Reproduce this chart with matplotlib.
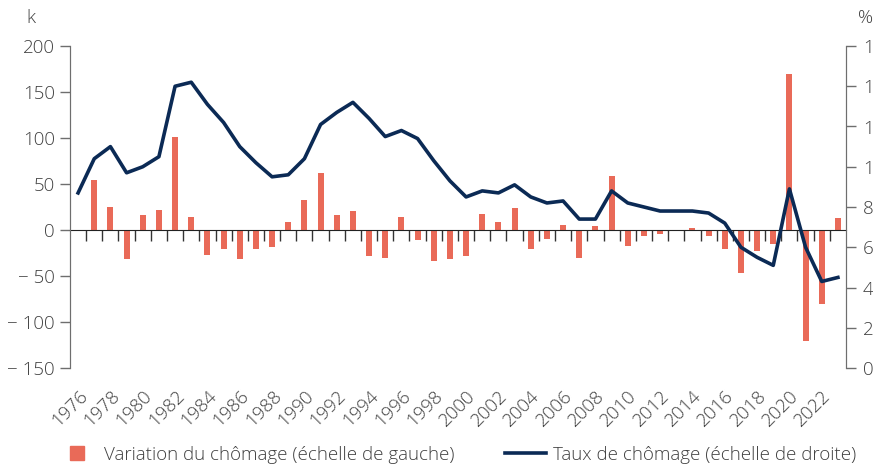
import matplotlib
matplotlib.use('Agg')
import matplotlib.pyplot as plt
from matplotlib.lines import Line2D
import numpy as np

plt.rcParams['font.family'] = ['Open Sans', 'DejaVu Sans']
plt.rcParams['font.weight'] = 'light'

# Données
annees = list(range(1976, 2024))
variation = [0, 54, 25, -31, 16, 22, 101, 14, -27, -21, -32, -21, -19, 9,
             33, 62, 16, 21, -28, -30, 14, -11, -34, -32, -28, 17, 9, 24,
             -21, -10, 5, -30, 4, 59, -17, -7, -4, 0, 2, -6, -21, -47,
             -23, -15, 170, -121, -80, 13]
taux = [8.7, 10.4, 11.0, 9.7, 10.0, 10.5, 14.0, 14.2, 13.1, 12.2, 11.0, 10.2,
        9.5, 9.6, 10.4, 12.1, 12.7, 13.2, 12.4, 11.5, 11.8, 11.4, 10.3, 9.3,
        8.5, 8.8, 8.7, 9.1, 8.5, 8.2, 8.3, 7.4, 7.4, 8.8, 8.2, 8.0, 7.8, 7.8,
        7.8, 7.7, 7.2, 6.0, 5.5, 5.1, 8.9, 6.0, 4.3, 4.5]

gauche_ticks = [200, 150, 100, 50, 0, -50, -100, -150]
gauche_labels = ['200', '150', '100', '50', '0', '\u2212 50', '\u2212 100', '\u2212 150']
droite_ticks = [0, 2, 4, 6, 8, 10, 12, 14, 16]

corail = '#e96a58'
marine = '#0b2a55'
gris_texte = '#404040'
gris_axe = '#6e6e6e'
taille = 13.5

x = np.arange(len(annees))

fig = plt.figure(figsize=(8.73, 4.65), dpi=100)
ax = fig.add_axes([70 / 873, 1 - 368 / 465, 776 / 873, 322 / 465])
ax2 = ax.twinx()

ax.bar(x, variation, width=0.38, color=corail, zorder=2)
ax2.plot(x, taux, color=marine, lw=2.6, zorder=3)

ax.set_xlim(-0.5, len(annees) - 0.5)
ax.set_ylim(-150, 200)
ax2.set_ylim(0, 16)

# Axe gauche / droit
ax.set_yticks(gauche_ticks)
ax.set_yticklabels(gauche_labels)
ax.tick_params(axis='y', length=7, width=1, color=gris_axe, labelsize=taille,
               labelcolor=gris_texte, pad=4)
ax2.set_yticks(droite_ticks)
ax2.tick_params(axis='y', length=7, width=1, color=gris_axe, labelsize=taille,
                labelcolor=gris_texte, pad=5)

for a in (ax, ax2):
    a.spines['top'].set_visible(False)
    a.spines['left'].set_color(gris_axe)
    a.spines['right'].set_color(gris_axe)
ax2.spines['bottom'].set_visible(False)

# Axe des abscisses sur le zéro
ax.spines['bottom'].set_position(('data', 0))
ax.spines['bottom'].set_color('#222222')
ax.spines['bottom'].set_zorder(4)
ax.set_xticks(x[::2])
ax.set_xticklabels([str(a) for a in annees[::2]], rotation=45, ha='right',
                   rotation_mode='anchor')
ax.set_xticks(x[:-1] + 0.5, minor=True)
ax.tick_params(axis='x', which='major', length=0, labelsize=taille,
               labelcolor=gris_texte, pad=113)
ax.tick_params(axis='x', which='minor', length=8, width=1, color='#333333')

fig.text(26 / 873, 1 - 18 / 465, 'k', fontsize=taille, color=gris_texte, va='center')
fig.text(858 / 873, 1 - 18 / 465, '%', fontsize=taille, color=gris_texte, va='center')

handles = [Line2D([], [], marker='s', ls='', color=corail, markersize=10),
           Line2D([], [], color=marine, lw=2.6)]
fig.legend(handles, ['Variation du chômage (échelle de gauche)',
                     'Taux de chômage (échelle de droite)'],
           loc='center left', bbox_to_anchor=(56 / 873, 1 - 455 / 465),
           ncol=2, frameon=False, fontsize=taille, handlelength=2.2,
           handletextpad=0.35, columnspacing=2.7, borderpad=0,
           borderaxespad=0, labelcolor=gris_texte)

fig.savefig('out.png', dpi=100)
